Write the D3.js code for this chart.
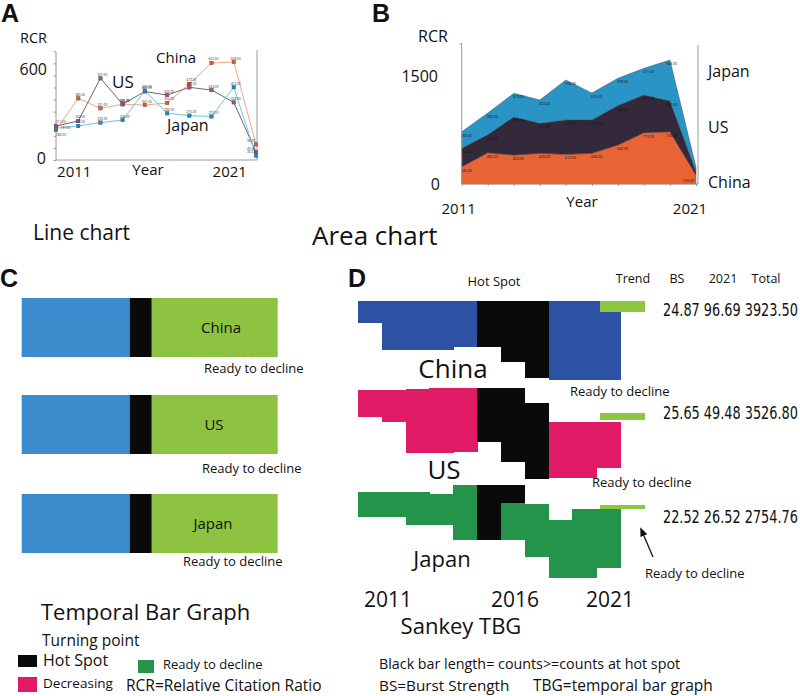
<!DOCTYPE html>
<html><head><meta charset="utf-8">
<script src="https://cdn.jsdelivr.net/npm/d3@7"></script>
<style>
html,body{margin:0;padding:0;background:#fff;}
svg{display:block;font-family:"Open Sans",sans-serif;}
</style></head><body>
<svg id="c" width="800" height="696"></svg>
<script>
// ================= DATA =================
const countries = ["China", "US", "Japan"];
// Panel A: line chart of RCR (10 yearly points, last = 2021)
const lineIndex = [0,1,2,3,4,5,6,7,8,9];
const lineChina = [186, 383, 321, 346, 341, 354, 472, 602, 608, 96.69];
const lineUS    = [211, 242, 507, 346, 425, 403, 451, 434, 358, 49.48];
const lineJapan = [197, 211, 232, 248, 430, 290, 275, 270, 452, 26.52];
const lineTickLabels = [{label: "2011", at: 1}, {label: "2021", at: 8}];
// Panel B: stacked area chart of RCR
const areaChina = [240, 435, 403, 426, 412, 426, 542, 713, 726, 125];
const areaUS    = [256, 248, 528, 417, 477, 463, 548, 523, 427, 46];
const areaJapan = [230, 303, 329, 324, 556, 375, 378, 371, 569, 65];
const areaTickLabels = [{label: "2011", at: 0}, {label: "2021", at: 9}];
// Panel C: temporal bar graph segments (length in years)
const tbgSegments = [4.65, 0.93, 5.42];          // before hot spot, hot spot, after
const tbgSegmentColors = ["#3a8ccd", "#0a0a0a", "#8dc340"];
// Panel D: Sankey TBG per year (offset from row top, count height)
const sankeyYears = [2011,2012,2013,2014,2015,2016,2017,2018,2019,2020,2021];
const sankeyChinaOffset = [0,0,0,0,0,0,0,0,0,0,0];
const sankeyChinaCount  = [22,49,49,49,46,46,61,77,79,79,79];
const sankeyChinaHot    = [0,0,0,0,0,46,61,77,0,0,0];
const sankeyUSOffset = [2,2,1,0,0,0,0,15,34,34,34];
const sankeyUSCount  = [27,32,64,65,64,54,74,76,56,56,46];
const sankeyUSHot    = [0,0,0,0,0,54,74,76,0,0,0];
const sankeyJapanOffset = [7,7,7,9,0,0,0,19,35,24,24];
const sankeyJapanCount  = [25,25,33,31,55,55,55,53,58,69,59];
const sankeyJapanHot    = [0,0,0,0,0,55,18,0,0,0,0];
const trendValues = [11, 7, 3.5];
const burstStrength = ["24.87", "25.65", "22.52"];
const rcr2021 = ["96.69", "49.48", "26.52"];
const totals = ["3923.50", "3526.80", "2754.76"];
const sankeyYearLabels = ["2011", "2016", "2021"];

// ================= DRAW =================
const svg = d3.select("#c");
const F = '"Open Sans", sans-serif';
function txt(x, y, s, size, opt = {}) {
  return svg.append("text").attr("x", x).attr("y", y).text(s)
    .attr("font-size", size)
    .attr("font-family", opt.family || F)
    .attr("font-weight", opt.weight || "normal")
    .attr("text-anchor", opt.anchor || "start")
    .attr("fill", opt.fill || "#111");
}
// panel letters
[["A",1,22],["B",372,22],["C",0,287],["D",348,287]].forEach(([t,x,y]) =>
  txt(x, y, t, 25, {weight: "bold", family: '"Liberation Sans", Arial, sans-serif'}));

// ---------- Panel A ----------
const xA = d3.scaleLinear().domain([0, 9]).range([56, 256]);
const yA = d3.scaleLinear().domain([0, 600]).range([160, 63.3]);
const gA = svg.append("g");
gA.append("g").attr("transform", "translate(56,0)")
  .call(d3.axisLeft(yA).tickValues(d3.range(0, 676, 75)).tickSize(2.5).tickFormat(""))
  .call(g => g.select(".domain").attr("stroke", "#9a9a9a").attr("d", "M0," + yA(0) + "V52"))
  .call(g => g.selectAll(".tick line").attr("stroke", "#9a9a9a"));
gA.append("line").attr("x1", 56).attr("x2", 257).attr("y1", yA(0)).attr("y2", yA(0)).attr("stroke", "#9a9a9a");
gA.append("line").attr("x1", 257).attr("x2", 257).attr("y1", 50).attr("y2", yA(0)).attr("stroke", "#9a9a9a");

const seriesA = [
  {name: "China", vals: lineChina, line: "#f4a287", mark: "#e25a2a", dx0: 0, dy0: 5.5},
  {name: "US", vals: lineUS, line: "#6a6a6a", mark: "#9b4ba2", dx0: 0, dy0: -2.5},
  {name: "Japan", vals: lineJapan, line: "#6ec6e7", mark: "#1c8cc8", dx0: 4.5, dy0: 1.2}
];
const lineGen = d3.line().x((d, i) => xA(lineIndex[i])).y(d => yA(d));
seriesA.forEach(s => {
  gA.append("path").attr("d", lineGen(s.vals)).attr("fill", "none")
    .attr("stroke", s.line).attr("stroke-width", 1);
});
seriesA.forEach(s => {
  gA.selectAll(null).data(s.vals).join("rect")
    .attr("x", (d, i) => xA(lineIndex[i]) - 1.8).attr("y", d => yA(d) - 1.8)
    .attr("width", 3.6).attr("height", 3.6).attr("fill", s.mark)
    .attr("stroke", "#333").attr("stroke-width", 0.3);
  gA.selectAll(null).data(s.vals).join("text")
    .attr("x", (d, i) => xA(lineIndex[i]) + (i === 0 ? s.dx0 : -3) + (i === 9 ? -6 : 0))
    .attr("y", (d, i) => yA(d) + (i === 0 ? s.dy0 : -2.5))
    .attr("font-size", 3.2).attr("fill", "#333").text(d => d.toFixed(2));
});
txt(20, 43, "RCR", 14.5);
txt(47, 75, "600", 16, {anchor: "end"});
txt(46, 164, "0", 16, {anchor: "end"});
lineTickLabels.forEach(t => txt(xA(t.at) - 4, 177, t.label, 15, {anchor: "middle"}));
txt(148, 175, "Year", 15, {anchor: "middle"});
txt(156, 63, "China", 15);
txt(112, 88, "US", 17);
txt(167, 131, "Japan", 16);
txt(33, 240, "Line chart", 21);

// ---------- Panel B ----------
const xB = d3.scaleLinear().domain([0, 9]).range([461.7, 696]);
const yB = d3.scaleLinear().domain([0, 1500]).range([184, 76]);
const gB = svg.append("g");
const rowsB = areaChina.map((d, i) => ({i, China: d, US: areaUS[i], Japan: areaJapan[i]}));
const stackB = d3.stack().keys(countries)(rowsB);
const colB = {China: "#ea6335", US: "#33293a", Japan: "#2a94c7"};
const areaGen = d3.area().x(d => xB(d.data.i)).y0(d => yB(d[0])).y1(d => yB(d[1]));
stackB.forEach(layer => {
  gB.append("path").attr("d", areaGen(layer)).attr("fill", colB[layer.key])
    .attr("stroke", "#3a3a3a").attr("stroke-width", 0.4);
});
stackB.forEach(layer => {
  gB.selectAll(null).data(layer.filter(d => d.data.i < 9)).join("text")
    .attr("x", d => xB(d.data.i) + (d.data.i === 8 ? -4 : -1))
    .attr("y", d => yB(d[1]) + 5)
    .attr("font-size", 3.6).attr("fill", "#111")
    .text(d => (d[1] - d[0]).toFixed(2));
});
gB.append("text").attr("x", xB(9) - 2).attr("y", yB(areaChina[9]) + 7)
  .attr("font-size", 3.6).attr("text-anchor", "end").attr("fill", "#111")
  .text(areaChina[9].toFixed(2));
gB.append("line").attr("x1", 461.7).attr("x2", 461.7).attr("y1", 43).attr("y2", 184).attr("stroke", "#9a9a9a");
gB.append("line").attr("x1", 459.5).attr("x2", 461.7).attr("y1", 44).attr("y2", 44).attr("stroke", "#9a9a9a");
gB.append("g").attr("transform", "translate(0,184)")
  .call(d3.axisBottom(xB).tickValues(d3.range(0, 10)).tickSize(2).tickFormat(""))
  .call(g => g.select(".domain").attr("stroke", "#9a9a9a").attr("d", "M461.7,0H698"))
  .call(g => g.selectAll(".tick line").attr("stroke", "#9a9a9a"));
gB.append("line").attr("x1", 698).attr("x2", 698).attr("y1", 45).attr("y2", 184).attr("stroke", "#9a9a9a");
txt(418, 42, "RCR", 16);
txt(438, 82, "1500", 16, {anchor: "end"});
txt(440, 190, "0", 16, {anchor: "end"});
areaTickLabels.forEach(t => txt(xB(t.at) - 3 + (t.at === 9 ? -3 : 0), 214, t.label, 15, {anchor: "middle"}));
txt(582, 207, "Year", 15, {anchor: "middle"});
txt(708, 77, "Japan", 16);
txt(708, 133, "US", 16);
txt(708, 188, "China", 16);
txt(312, 245, "Area chart", 26);

// ---------- Panel C ----------
const gC = svg.append("g");
const xC = d3.scaleLinear().domain([0, d3.sum(tbgSegments)]).range([21.7, 277.7]);
const cRows = [298, 395, 494];
const cLabelX = [221, 214, 213];
const cumul = d3.cumsum([0, ...tbgSegments]);
countries.forEach((c, r) => {
  tbgSegments.forEach((len, k) => {
    gC.append("rect").attr("x", xC(cumul[k])).attr("y", cRows[r])
      .attr("width", xC(cumul[k] + len) - xC(cumul[k]) + (k < 2 ? 0.4 : 0)).attr("height", 59)
      .attr("fill", tbgSegmentColors[k]);
  });
  txt(cLabelX[r], cRows[r] + 35, c, 15, {anchor: "middle"});
});
txt(204, 373, "Ready to decline", 13);
txt(202, 473, "Ready to decline", 13);
txt(183, 566, "Ready to decline", 13);

// ---------- Panel D ----------
const gD = svg.append("g");
const xD = d3.scaleBand().domain(sankeyYears).range([358, 620]).paddingInner(0);
const sankeyRows = [
  {name: "China", top: 300.7, off: sankeyChinaOffset, cnt: sankeyChinaCount, hot: sankeyChinaHot, col: "#2e52a3", trendTop: 300.7},
  {name: "US", top: 388, off: sankeyUSOffset, cnt: sankeyUSCount, hot: sankeyUSHot, col: "#e21b67", trendTop: 413},
  {name: "Japan", top: 485, off: sankeyJapanOffset, cnt: sankeyJapanCount, hot: sankeyJapanHot, col: "#23944a", trendTop: 505}
];
const ySank = d3.scaleLinear().domain([0, 100]).range([0, 100]);
sankeyRows.forEach((row, r) => {
  const g = gD.append("g").attr("shape-rendering", "crispEdges");
  sankeyYears.forEach((yr, i) => {
    const x = xD(yr), w = xD.bandwidth() + 0.6;
    g.append("rect").attr("x", x).attr("y", row.top + ySank(row.off[i]))
      .attr("width", w).attr("height", ySank(row.cnt[i])).attr("fill", row.col);
    if (row.hot[i] > 0) {
      g.append("rect").attr("x", x).attr("y", row.top + ySank(row.off[i]))
        .attr("width", w).attr("height", ySank(row.hot[i])).attr("fill", "#0a0a0a");
    }
  });
  // trend bar
  g.append("rect").attr("x", 600).attr("y", row.trendTop).attr("width", 45)
    .attr("height", ySank(trendValues[r])).attr("fill", "#8dc63f");
});
const numFam = '"Liberation Sans Narrow", "Arial Narrow", "DejaVu Sans Condensed", sans-serif';
const numY = [316, 419, 523];
countries.forEach((c, r) => {
  const t = svg.append("text").attr("x", 0).attr("y", 0).attr("font-size", 18.5)
    .attr("font-family", numFam).attr("fill", "#111")
    .text(burstStrength[r] + " " + rcr2021[r] + " " + totals[r]);
  const w = t.node().getComputedTextLength() || 135;
  t.attr("transform", `translate(663,${numY[r]}) scale(${135 / w},1)`);
});
txt(494, 286, "Hot Spot", 13, {anchor: "middle"});
txt(633, 283, "Trend", 12.5, {anchor: "middle"});
txt(677, 283, "BS", 12.5, {anchor: "middle"});
txt(723, 283, "2021", 12.5, {anchor: "middle"});
txt(766, 283, "Total", 12.5, {anchor: "middle"});
txt(453, 378, "China", 26, {anchor: "middle"});
txt(444, 479, "US", 26, {anchor: "middle"});
txt(442, 567, "Japan", 22, {anchor: "middle"});
txt(570, 396, "Ready to decline", 13);
txt(592, 487, "Ready to decline", 13);
txt(645, 578, "Ready to decline", 13);
// arrow
svg.append("defs").append("marker").attr("id", "ah").attr("viewBox", "0 0 10 10")
  .attr("refX", 8).attr("refY", 5).attr("markerWidth", 7).attr("markerHeight", 7)
  .attr("orient", "auto").append("path").attr("d", "M0,1 L10,5 L0,9 Z").attr("fill", "#111");
svg.append("line").attr("x1", 653).attr("y1", 557).attr("x2", 641).attr("y2", 529)
  .attr("stroke", "#111").attr("stroke-width", 1.3).attr("marker-end", "url(#ah)");
const yrX = [388, 515, 610];
sankeyYearLabels.forEach((t, i) => txt(yrX[i], 607, t, 21, {anchor: "middle"}));
txt(461, 634, "Sankey TBG", 22, {anchor: "middle"});

// ---------- Legend ----------
txt(41, 620, "Temporal Bar Graph", 22);
txt(42, 646, "Turning point", 15.5);
const legendItems = [
  {x: 18, y: 655, w: 19, h: 12, col: "#0a0a0a", label: "Hot Spot", lx: 43, ly: 666, size: 16},
  {x: 18, y: 677, w: 19, h: 15, col: "#e21b67", label: "Decreasing", lx: 43, ly: 688, size: 13.5},
  {x: 138, y: 660, w: 16, h: 13, col: "#23944a", label: "Ready to decline", lx: 163, ly: 669, size: 13}
];
legendItems.forEach(d => {
  svg.append("rect").attr("x", d.x).attr("y", d.y).attr("width", d.w).attr("height", d.h).attr("fill", d.col);
  txt(d.lx, d.ly, d.label, d.size);
});
txt(126, 691, "RCR=Relative Citation Ratio", 15.5);
txt(379, 669, "Black bar length= counts>=counts at hot spot", 14.3);
txt(379, 691, "BS=Burst Strength", 15.3);
txt(533, 691, "TBG=temporal bar graph", 15.5);
</script>
</body></html>
